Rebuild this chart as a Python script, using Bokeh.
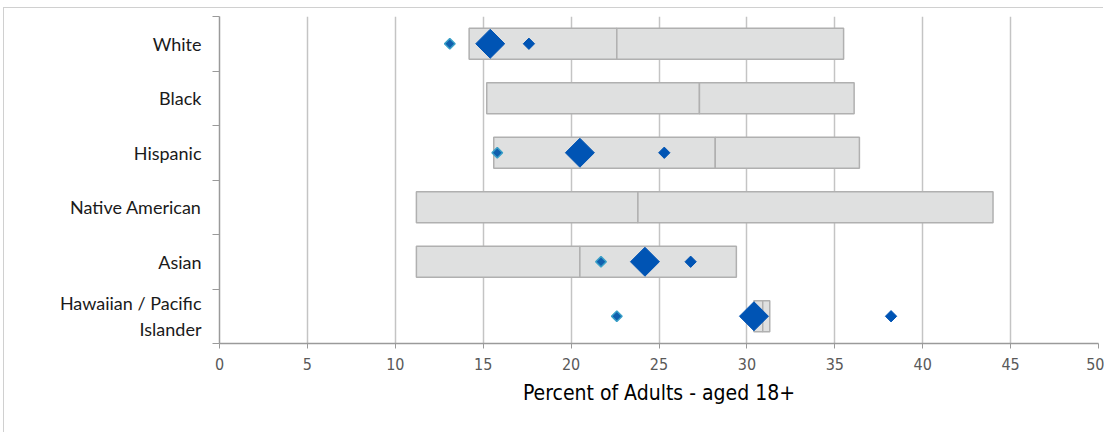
from bokeh.plotting import figure
from bokeh.models import FixedTicker, ColumnDataSource, Range1d
from bokeh.embed import file_html
from bokeh.resources import INLINE
import numpy as np

categories = ["White", "Black", "Hispanic", "Native American", "Asian", "Hawaiian / Pacific\nIslander"]
box_low = [14.2, 15.2, 15.6, 11.2, 11.2, 30.4]
box_mid = [22.6, 27.3, 28.2, 23.8, 20.5, 30.9]
box_high = [35.5, 36.1, 36.4, 44.0, 29.4, 31.3]
point_teal = [13.1, np.nan, 15.8, np.nan, 21.7, 22.6]
point_main = [15.4, np.nan, 20.5, np.nan, 24.2, 30.4]
point_blue = [17.6, np.nan, 25.3, np.nan, 26.8, 38.2]
x_ticks = [0, 5, 10, 15, 20, 25, 30, 35, 40, 45, 50]

n = len(categories)
ypos = [n - 0.5 - i for i in range(n)]

src = ColumnDataSource(dict(y=ypos, low=box_low, mid=box_mid, high=box_high,
                            teal=point_teal, main=point_main, blue=point_blue))

p = figure(width=1100, height=425, output_backend="svg", toolbar_location=None,
           x_range=Range1d(0, 50), y_range=Range1d(0, n),
           min_border_left=215, min_border_right=6, min_border_top=8, min_border_bottom=90)
p.styles = {"margin": "8px 0 0 4px", "box-shadow": "-1px -1px 0 #d0d0d0"}
p.outline_line_color = None
p.background_fill_color = "white"
p.border_fill_color = "white"

# boxes
p.hbar(y="y", left="low", right="mid", height=0.57, source=src,
       fill_color="#dfe0e0", line_color="#b0b0b0", line_width=1.5)
p.hbar(y="y", left="mid", right="high", height=0.57, source=src,
       fill_color="#dfe0e0", line_color="#b0b0b0", line_width=1.5)

# points
p.scatter(x="teal", y="y", source=src, marker="square", angle=np.pi / 4, size=7.5,
          fill_color="#1060ae", line_color="#3aa0c8", line_width=1.5)
p.scatter(x="main", y="y", source=src, marker="square", angle=np.pi / 4, size=20.5,
          fill_color="#0054b4", line_color="#0054b4")
p.scatter(x="blue", y="y", source=src, marker="square", angle=np.pi / 4, size=8,
          fill_color="#0054b4", line_color="#0054b4")

# grid
p.ygrid.grid_line_color = None
p.xgrid.ticker = FixedTicker(ticks=x_ticks[1:])
p.xgrid.grid_line_color = "#c4c4c4"
p.xgrid.grid_line_width = 1.5

cond = "DejaVu Sans Condensed"

# x axis
xa = p.xaxis[0]
xa.ticker = FixedTicker(ticks=x_ticks, minor_ticks=[])
xa.axis_line_color = "#9a9a9a"
xa.axis_line_width = 1.5
xa.major_tick_line_color = "#9a9a9a"
xa.major_tick_in = 0
xa.major_tick_out = 5
xa.minor_tick_line_color = None
xa.major_label_text_font = cond
xa.major_label_text_font_size = "16px"
xa.major_label_text_color = "#595959"
xa.major_label_standoff = 9
xa.axis_label = "Percent of Adults - aged 18+"
xa.axis_label_text_font = cond
xa.axis_label_text_font_size = "21px"
xa.axis_label_text_font_style = "normal"
xa.axis_label_text_color = "#000000"
xa.axis_label_standoff = 8

# y axis
ya = p.yaxis[0]
ya.ticker = FixedTicker(ticks=ypos, minor_ticks=list(range(n + 1)))
ya.major_label_overrides = {ypos[i]: categories[i] for i in range(n)}
ya.axis_line_color = "#9a9a9a"
ya.axis_line_width = 1.5
ya.major_tick_line_color = None
ya.major_tick_in = 0
ya.major_tick_out = 0
ya.minor_tick_line_color = "#9a9a9a"
ya.minor_tick_in = 0
ya.minor_tick_out = 7
ya.major_label_text_font = "Lato"
ya.major_label_text_font_size = "18px"
ya.major_label_text_color = "#1a1a1a"
ya.major_label_standoff = 11

open("out.html", "w").write(file_html(p, INLINE))
